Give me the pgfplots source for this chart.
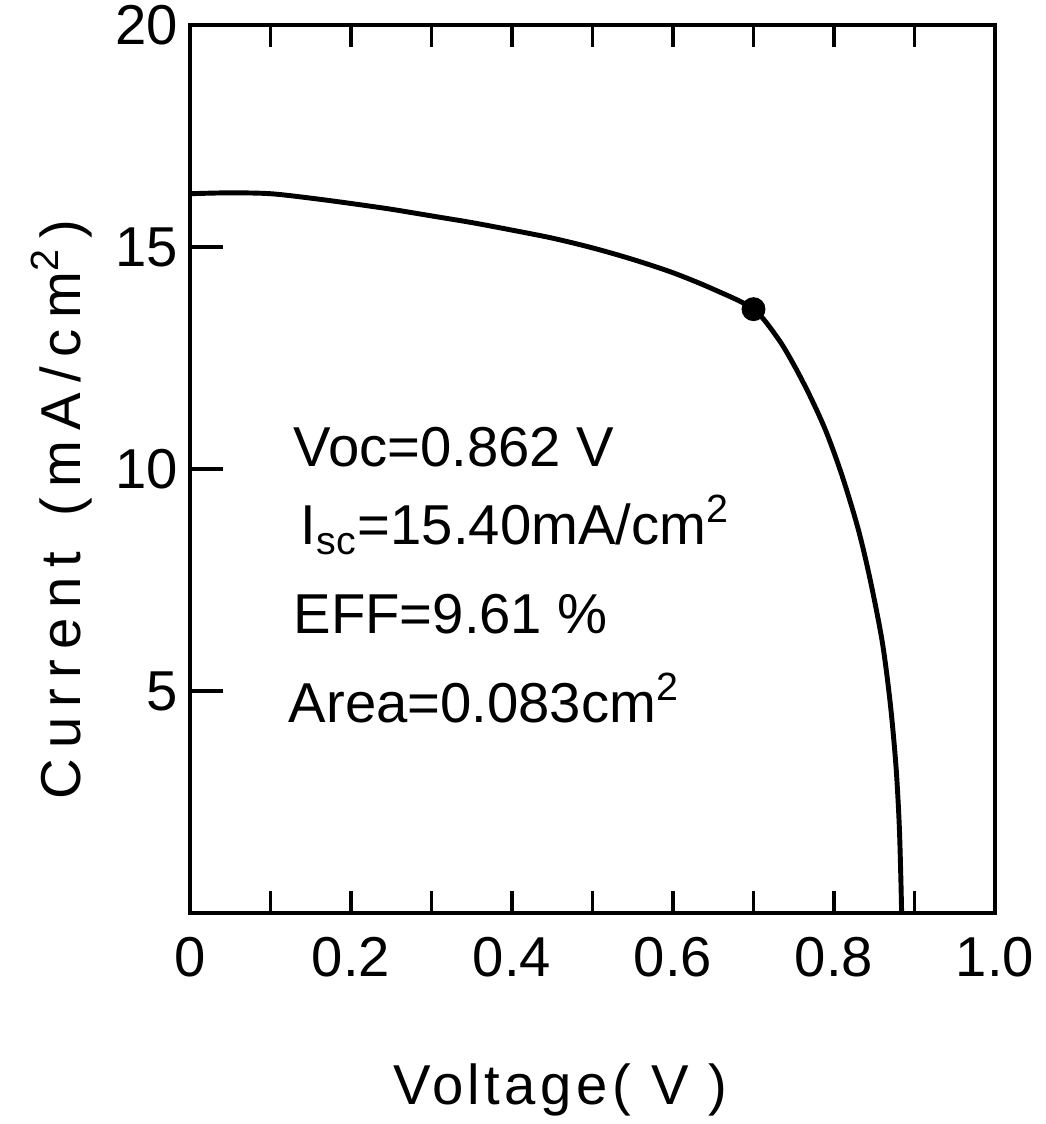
\documentclass[border=0pt]{standalone}
\usepackage{fontspec}
\setmainfont{Liberation Sans}
\newfontfamily\ylabelfont[LetterSpace=18]{Liberation Sans}
\newfontfamily\xlabelfont[LetterSpace=8]{Liberation Sans}
\usepackage{pgfplots}
\pgfplotsset{compat=1.18}
\newcommand{\chartfont}{\fontsize{16}{19}\selectfont}
\begin{document}
\begin{tikzpicture}
\useasboundingbox (-1.90,-2.11) rectangle (8.55,9.13);
\begin{axis}[
    at={(0,0)}, anchor=south west,
    scale only axis,
    width=8.05cm, height=8.88cm,
    xmin=0, xmax=1, ymin=0, ymax=20,
    axis line style={line width=1.2pt},
    tick style={line width=1.1pt, black},
    tick align=inside,
    xtick={0,0.2,0.4,0.6,0.8,1},
    xticklabels={0,0.2,0.4,0.6,0.8,1.0},
    major x tick style={draw=none},
    minor xtick={0.1,0.2,0.3,0.4,0.5,0.6,0.7,0.8,0.9},
    ytick={5,10,15,20},
    ytick pos=left,
    major tick length=0.33cm,
    minor tick length=0.22cm,
    /pgf/number format/assume math mode=true,
    tick label style={font=\chartfont},
    xticklabel style={yshift=-0.12cm},
    xlabel={Voltage( V )},
    ylabel={Current\, (mA/cm\textsuperscript{2}\,)},
    xlabel style={font=\xlabelfont\chartfont, at={(axis description cs:0.46,-0.199)}, anchor=center},
    ylabel style={font=\ylabelfont\chartfont, at={(axis description cs:-0.16,0.454)}, anchor=center},
    clip=false,
]
% I-V curve
\addplot[line width=1.4pt, smooth, tension=0.5] coordinates {
    (0,16.2) (0.05,16.22) (0.1,16.2) (0.15,16.1) (0.2,15.98) (0.25,15.85)
    (0.3,15.7) (0.35,15.55) (0.4,15.38) (0.45,15.2) (0.5,14.98) (0.55,14.72)
    (0.6,14.42) (0.65,14.05) (0.7,13.6) (0.73,12.95) (0.75,12.35) (0.77,11.65)
    (0.79,10.85) (0.81,9.85) (0.83,8.65) (0.845,7.5) (0.86,6.1) (0.87,4.7)
    (0.877,3.3) (0.881,2.0) (0.883,0.8) (0.884,0)
};
% maximum power point
\addplot[only marks, mark=*, mark size=3.2pt] coordinates {(0.7,13.6)};
\node[anchor=base west, font=\chartfont, inner sep=0] at (axis cs:0.128,10.05) {Voc=0.862 V};
\node[anchor=base west, font=\chartfont, inner sep=0] at (axis cs:0.137,8.29) {I\textsubscript{sc}=15.40mA/cm\textsuperscript{2}};
\node[anchor=base west, font=\chartfont, inner sep=0] at (axis cs:0.128,6.3) {EFF=9.61 \%};
\node[anchor=base west, font=\chartfont, inner sep=0] at (axis cs:0.122,4.3) {Area=0.083cm\textsuperscript{2}};
\end{axis}
\end{tikzpicture}
\end{document}
